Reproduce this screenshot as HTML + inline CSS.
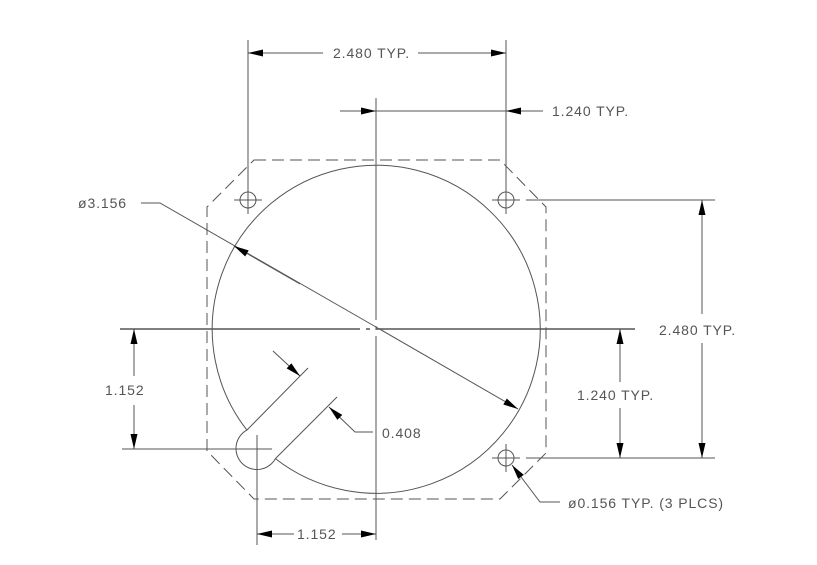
<!DOCTYPE html>
<html><head><style>html,body{margin:0;padding:0;background:#fff}svg{display:block}</style></head>
<body>
<svg width="817" height="565" viewBox="0 0 817 565" xmlns="http://www.w3.org/2000/svg">
<defs>
<marker id="a" viewBox="0 0 15 7" refX="15" refY="3.5" markerWidth="15" markerHeight="7" markerUnits="userSpaceOnUse" orient="auto"><path d="M0,0 L15,3.5 L0,7 Z" fill="#000"/></marker>
</defs>
<g stroke="#555" stroke-width="1" fill="none">
<line x1="376" y1="98" x2="376" y2="540" stroke-dasharray="222,6,4,6,300"/>
<line x1="120" y1="329" x2="635" y2="329" stroke-dasharray="240,6,4,6,400" stroke-width="1.4"/>
<path d="M254,160 L500,160 L546,207 L546,453 L500,499 L254,499 L207,451 L207,207 Z" stroke-dasharray="12,6"/>
<path d="M246.9,430.1 A164,164 0 1 1 275.4,458.6"/>
<path d="M246.9,430.1 A21,21 0 1 0 275.4,458.6"/>
<line x1="246.9" y1="430.1" x2="308" y2="368"/>
<line x1="275.4" y1="458.6" x2="337" y2="397"/>
<circle cx="248" cy="200" r="8"/><line x1="234" y1="200" x2="262" y2="200"/><line x1="248" y1="186" x2="248" y2="214"/>
<circle cx="506" cy="200" r="8"/><line x1="492" y1="200" x2="520" y2="200"/><line x1="506" y1="186" x2="506" y2="214"/>
<circle cx="506" cy="458" r="8"/><line x1="492" y1="458" x2="520" y2="458"/><line x1="506" y1="444" x2="506" y2="472"/>
<line x1="257" y1="435" x2="257" y2="545"/><line x1="243" y1="449" x2="272" y2="449"/>
<line x1="248" y1="40" x2="248" y2="186"/>
<line x1="506" y1="40" x2="506" y2="186"/>
<line x1="526" y1="200" x2="715" y2="200"/>
<line x1="526" y1="458" x2="715" y2="458"/>
<line x1="122" y1="449" x2="243" y2="449"/>
<line x1="323" y1="53" x2="248" y2="53" marker-end="url(#a)"/>
<line x1="418" y1="53" x2="506" y2="53" marker-end="url(#a)"/>
<line x1="340" y1="111" x2="376" y2="111" marker-end="url(#a)"/>
<line x1="376" y1="111" x2="506" y2="111"/>
<line x1="543" y1="111" x2="506" y2="111" marker-end="url(#a)"/>
<line x1="702" y1="314" x2="702" y2="200" marker-end="url(#a)"/>
<line x1="702" y1="343" x2="702" y2="458" marker-end="url(#a)"/>
<line x1="620" y1="382" x2="620" y2="329" marker-end="url(#a)"/>
<line x1="620" y1="408" x2="620" y2="458" marker-end="url(#a)"/>
<line x1="134" y1="376" x2="134" y2="329" marker-end="url(#a)"/>
<line x1="134" y1="405" x2="134" y2="449" marker-end="url(#a)"/>
<line x1="294" y1="534" x2="257" y2="534" marker-end="url(#a)"/>
<line x1="342" y1="534" x2="376" y2="534" marker-end="url(#a)"/>
<polyline points="141,203 160,203 376,327"/>
<line x1="300" y1="284" x2="234" y2="246" marker-end="url(#a)"/>
<line x1="376" y1="327" x2="518" y2="409" marker-end="url(#a)"/>
<line x1="273" y1="351" x2="300" y2="376" marker-end="url(#a)"/>
<polyline points="373,432 355,432 329,407" marker-end="url(#a)"/>
<polyline points="560,502 540,502 512,465" marker-end="url(#a)"/>
</g>
<g font-family="Liberation Sans, sans-serif" font-size="14" fill="#555" letter-spacing="0.9">
<text x="333" y="58">2.480 TYP.</text>
<text x="552" y="116">1.240 TYP.</text>
<text x="78" y="208">ø3.156</text>
<text x="659" y="335">2.480 TYP.</text>
<text x="577" y="400">1.240 TYP.</text>
<text x="105" y="395">1.152</text>
<text x="382" y="438">0.408</text>
<text x="297" y="539">1.152</text>
<text x="568" y="508">ø0.156 TYP. (3 PLCS)</text>
</g>
</svg>
</body></html>
